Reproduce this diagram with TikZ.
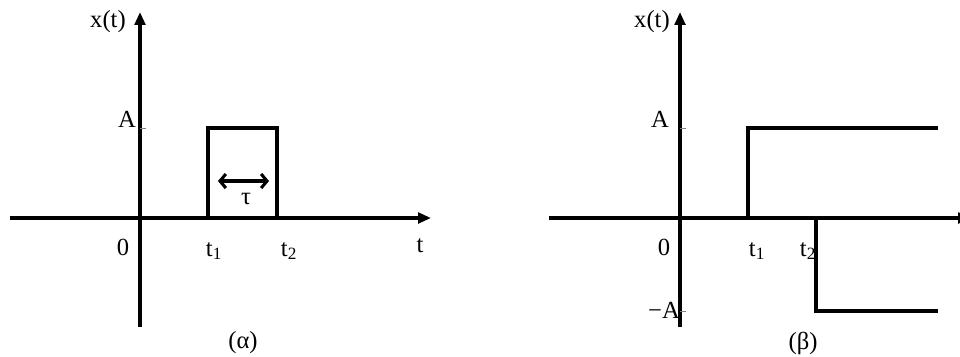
\documentclass[tikz,border=0pt]{standalone}
\usepackage{fontspec}
\setmainfont{Liberation Serif}
\usetikzlibrary{arrows.meta}

\begin{document}
\begin{tikzpicture}[
    x=0.03cm, y=-0.03cm,
    font=\fontsize{21}{24}\selectfont,
    axis/.style={line width=3pt, -{Triangle[length=11pt, width=9pt]}},
    signal/.style={line width=3pt},
    span/.style={line width=3pt, {Straight Barb[length=5pt, width=12pt, line width=2.6pt]}-{Straight Barb[length=5pt, width=12pt, line width=2.6pt]}},
    tick/.style={line width=0.8pt, gray}
]
    \useasboundingbox (0,0) rectangle (960,356);

    % Axes coordinates (alpha)
    \coordinate (o1) at (140, 218);
    \coordinate (xl1) at (10, 218);
    \coordinate (xr1) at (431, 218);
    \coordinate (yb1) at (140, 327);
    \coordinate (yt1) at (140, 12);

    % Axes coordinates (beta)
    \coordinate (o2) at (680, 218);
    \coordinate (xl2) at (549, 218);
    \coordinate (xr2) at (971, 218);
    \coordinate (yb2) at (680, 327);
    \coordinate (yt2) at (680, 12);

    % Pulse coordinates (alpha)
    \coordinate (p1) at (208, 218);
    \coordinate (p2) at (208, 128);
    \coordinate (p3) at (277, 128);
    \coordinate (p4) at (277, 218);
    \coordinate (sl) at (218, 181);
    \coordinate (sr) at (269, 181);

    % Step coordinates (beta)
    \coordinate (s1) at (748, 218);
    \coordinate (s2) at (748, 128);
    \coordinate (s3) at (938, 128);
    \coordinate (s4) at (816, 218);
    \coordinate (s5) at (816, 311);
    \coordinate (s6) at (938, 311);

    % Axes
    \draw[axis] (xl1) -- (xr1);
    \draw[axis] (yb1) -- (yt1);
    \draw[axis] (xl2) -- (xr2);
    \draw[axis] (yb2) -- (yt2);

    % Signals
    \draw[signal] (p1) -- (p2) -- (p3) -- (p4);
    \draw[span] (sl) -- (sr);
    \draw[signal] (s1) -- (s2) -- (s3);
    \draw[signal] (s4) -- (s5) -- (s6);

    % Level ticks
    \draw[tick] (o1 |- p2) -- ++(6, 0);
    \draw[tick] (o2 |- s2) -- ++(6, 0);
    \draw[tick] (o2 |- s5) -- ++(6, 0);

    % Labels (alpha)
    \node (tau) at (246, 199) {τ};
    \node (xt1) at (108, 22) {x(t)};
    \node (a1) at (127, 119) {A};
    \node (z1) at (123, 247) {0};
    \node (t11) at (214, 251) {t\textsubscript{1}};
    \node (t21) at (289, 251) {t\textsubscript{2}};
    \node (t1) at (420, 246) {t};
    \node (cap1) at (243, 343) {(α)};

    % Labels (beta)
    \node (xt2) at (652, 22) {x(t)};
    \node (a2) at (660, 119) {A};
    \node (z2) at (664, 247) {0};
    \node (t12) at (757, 251) {t\textsubscript{1}};
    \node (t22) at (808, 251) {t\textsubscript{2}};
    \node (ma2) at (664, 310) {−A};
    \node (t2) at (965, 246) {t};
    \node (cap2) at (803, 343) {(β)};

\end{tikzpicture}
\end{document}
